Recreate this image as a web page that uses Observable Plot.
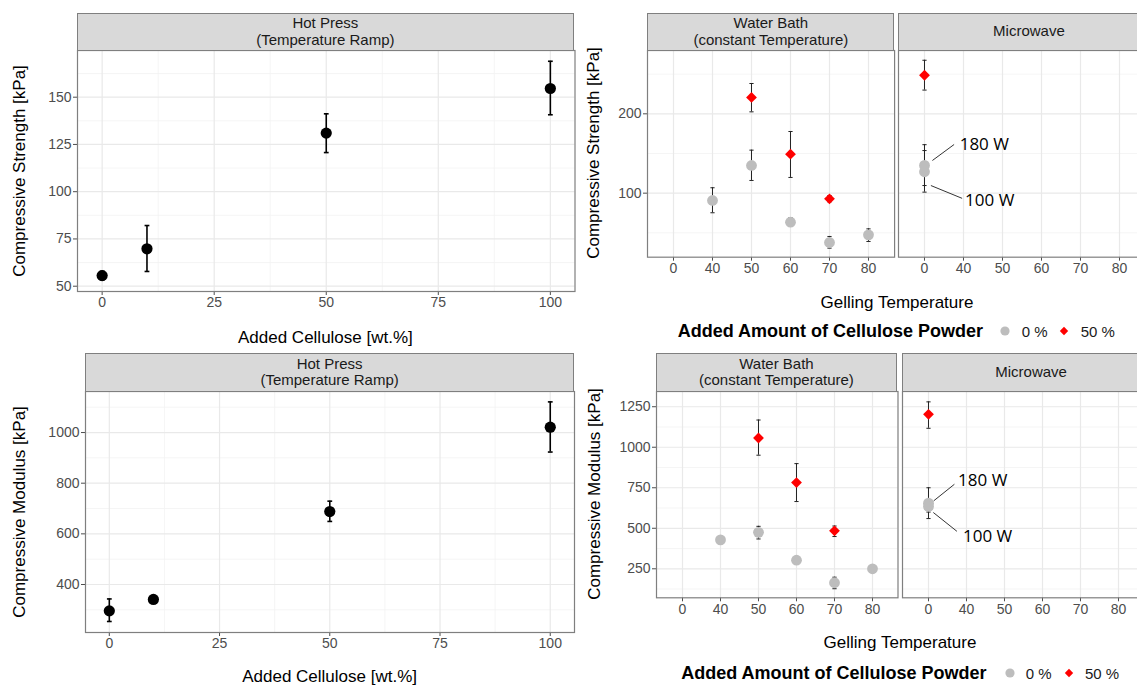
<!DOCTYPE html>
<html>
<head>
<meta charset="utf-8">
<script src="https://cdn.jsdelivr.net/npm/d3@7"></script>
<script src="https://cdn.jsdelivr.net/npm/@observablehq/plot@0.6"></script>
<style>
  html, body { margin: 0; padding: 0; background: #fff; }
  #root { position: relative; width: 1137px; height: 686px; overflow: hidden; background: #fff;
          font-family: 'Liberation Sans', Arial, Helvetica, sans-serif; }
</style>
</head>
<body>
<div id="root"></div>
<script>
// ---------------- DATA ----------------
// Hot press (temperature ramp): added cellulose [wt.%]
const celluloseWt = [0, 10, 50, 100];
const hpStrength   = [55.6, 69.8, 131.0, 154.6];
const hpStrengthLo = [53.4, 57.8, 120.7, 140.7];
const hpStrengthHi = [57.9, 82.1, 141.2, 169.0];
const hpModulus    = [296, 341, 688, 1021];
const hpModulusLo  = [254, 333, 649, 923];
const hpModulusHi  = [343, 349, 729, 1121];

// Gelling temperature categories (shared by both facets)
const tempLabels = ["0", "40", "50", "60", "70", "80"];

// Water bath (constant temperature), 0 % cellulose powder
const wbTemps0       = ["40", "50", "60", "70", "80"];
const wbStrength0    = [90.8, 134.9, 63.4, 37.8, 47.5];
const wbStrength0Lo  = [75.3, 116.0, 59.3, 30.7, 39.1];
const wbStrength0Hi  = [106.8, 154.2, 69.0, 45.4, 55.0];
const wbModulus0     = [428, 475, 303, 164, 250];
const wbModulus0Lo   = [420, 434, 296, 127, 243];
const wbModulus0Hi   = [436, 512, 310, 198, 257];

// Water bath, 50 % cellulose powder
const wbTemps50      = ["50", "60", "70"];
const wbStrength50   = [220.6, 149.1, 92.9];
const wbStrength50Lo = [202.5, 119.8, 89.0];
const wbStrength50Hi = [238.2, 177.7, 97.0];
const wbModulus50    = [1057, 782, 484];
const wbModulus50Lo  = [951, 665, 449];
const wbModulus50Hi  = [1168, 899, 514];

// Microwave (plotted at category "0")
const mwTemp = "0";
const mwPower        = ["180 W", "100 W"];
const mwStrength0    = [135, 127];
const mwStrength0Lo  = [109.6, 101.3];
const mwStrength0Hi  = [161.1, 153.7];
const mwStrength50   = [248.6];
const mwStrength50Lo = [229.9];
const mwStrength50Hi = [267.5];
const mwModulus0     = [655, 635];
const mwModulus0Lo   = [560, 600];
const mwModulus0Hi   = [750, 670];
const mwModulus50    = [1203];
const mwModulus50Lo  = [1117];
const mwModulus50Hi  = [1280];

// Legend
const powderLevels = ["0 %", "50 %"];

// Axis ticks
const hpXTicks = [0, 25, 50, 75, 100];
const hpXMinor = [12.5, 37.5, 62.5, 87.5];
const hpStrengthTicks = [50, 75, 100, 125, 150];
const hpStrengthMinor = [62.5, 87.5, 112.5, 137.5, 162.5];
const hpModulusTicks = [400, 600, 800, 1000];
const hpModulusMinor = [300, 500, 700, 900, 1100];
const wbStrengthTicks = [100, 200];
const wbStrengthMinor = [50, 150, 250];
const wbModulusTicks = [250, 500, 750, 1000, 1250];
const wbModulusMinor = [125, 375, 625, 875, 1125];

// ---------------- HELPERS ----------------
const root = document.getElementById("root");
const FONT = "'Liberation Sans', Arial, Helvetica, sans-serif";
const GRAY = "#bdbdbd", RED = "#ff0000";
const FRAME = "#7f7f7f";

const rows = (xs, v, lo, hi, extra) => xs.map((x, i) => ({x, v: v[i], lo: lo[i], hi: hi[i], label: extra ? extra[i] : null}));

const capSym = {draw(ctx, size) { const r = Math.sqrt(size / Math.PI); ctx.moveTo(-r, 0); ctx.lineTo(r, 0); }};
const diamondSym = {draw(ctx, size) { const r = Math.sqrt(size / Math.PI); ctx.moveTo(0, -r); ctx.lineTo(r, 0); ctx.lineTo(0, r); ctx.lineTo(-r, 0); ctx.closePath(); }};
const segSym = (a, b, c, d) => ({draw(ctx) { ctx.moveTo(a, b); ctx.lineTo(c, d); }});

function addDiv(html, css) {
  const d = document.createElement("div");
  d.innerHTML = html;
  Object.assign(d.style, {position: "absolute", fontFamily: FONT, whiteSpace: "nowrap"}, css);
  root.append(d);
  return d;
}

function strip(lines, x0, x1, y0, y1) {
  addDiv(`<div>${lines.join("<br>")}</div>`, {
    left: x0 + "px", top: y0 + "px", width: (x1 - x0) + "px", height: (y1 - y0) + "px",
    boxSizing: "border-box", background: "#d9d9d9", border: "1.2px solid " + FRAME,
    display: "flex", alignItems: "center", justifyContent: "center", textAlign: "center",
    fontSize: "15px", lineHeight: "16.6px", color: "#1a1a1a"
  });
}

function yTitle(text, cx, cy) {
  addDiv(text, {left: cx + "px", top: cy + "px", transform: "translate(-50%,-50%) rotate(-90deg)",
    fontSize: "17px", color: "#000"});
}
function xTitle(text, cx, cy) {
  addDiv(text, {left: cx + "px", top: cy + "px", transform: "translate(-50%,-50%)", fontSize: "17px", color: "#000"});
}

function legend(cy, xTitleLeft, xCircle, xLab0, xDiamond, xLab1) {
  addDiv("Added Amount of Cellulose Powder", {left: xTitleLeft + "px", top: cy + "px", transform: "translateY(-50%)",
    fontSize: "18px", fontWeight: "bold", color: "#000"});
  addDiv(`<svg width="12" height="12"><circle cx="6" cy="6" r="4.6" fill="${GRAY}"/></svg>`,
    {left: (xCircle - 6) + "px", top: (cy - 6) + "px", lineHeight: "0"});
  addDiv(powderLevels[0], {left: xLab0 + "px", top: cy + "px", transform: "translateY(-50%)", fontSize: "15px", color: "#1a1a1a"});
  addDiv(`<svg width="12" height="12"><path d="M6,1.8L10.2,6L6,10.2L1.8,6Z" fill="${RED}"/></svg>`,
    {left: (xDiamond - 6) + "px", top: (cy - 6) + "px", lineHeight: "0"});
  addDiv(powderLevels[1], {left: xLab1 + "px", top: cy + "px", transform: "translateY(-50%)", fontSize: "15px", color: "#1a1a1a"});
}

function gridMarks(xMajor, xMinor, yMajor, yMinor) {
  return [
    Plot.ruleY(yMinor, {stroke: "#f2f2f2", strokeWidth: 0.8}),
    ...(xMinor ? [Plot.ruleX(xMinor, {stroke: "#f2f2f2", strokeWidth: 0.8})] : []),
    Plot.ruleY(yMajor, {stroke: "#e9e9e9", strokeWidth: 1.2}),
    Plot.ruleX(xMajor, {stroke: "#e9e9e9", strokeWidth: 1.2})
  ];
}

function errorBars(data, stroke, width, capR) {
  return [
    Plot.ruleX(data, {x: "x", y1: "lo", y2: "hi", stroke, strokeWidth: width}),
    Plot.dot(data, {x: "x", y: "lo", symbol: capSym, r: capR, stroke, strokeWidth: width, fill: "none"}),
    Plot.dot(data, {x: "x", y: "hi", symbol: capSym, r: capR, stroke, strokeWidth: width, fill: "none"})
  ];
}

function panel({x0, x1, y0, y1, x, y, marks, showY = true}) {
  const ML = 50, MR = 1, MT = 1, MB = 26;
  const svg = Plot.plot({
    width: (x1 - x0) + ML + MR, height: (y1 - y0) + MT + MB,
    marginLeft: ML, marginRight: MR, marginTop: MT, marginBottom: MB,
    style: {fontFamily: FONT, fontSize: "14px", color: "#4d4d4d", background: "transparent", overflow: "visible"},
    x: {...x, tickSize: 4, tickPadding: 2, label: null},
    y: showY ? {...y, tickSize: 4, tickPadding: 2, label: null, tickFormat: "d"} : {...y, axis: null},
    marks: [...marks, Plot.frame({stroke: FRAME, strokeWidth: 1.2})]
  });
  svg.style.position = "absolute";
  svg.style.left = (x0 - ML) + "px";
  svg.style.top = (y0 - MT) + "px";
  root.append(svg);
}

// ---------------- HOT PRESS PANELS ----------------
const hpS = rows(celluloseWt, hpStrength, hpStrengthLo, hpStrengthHi);
panel({
  x0: 76.6, x1: 574.1, y0: 50, y1: 291,
  x: {domain: [-5.5, 105.5], ticks: hpXTicks},
  y: {domain: [47.2, 174.7], ticks: hpStrengthTicks},
  marks: [
    ...gridMarks(hpXTicks, hpXMinor, hpStrengthTicks, hpStrengthMinor),
    ...errorBars(hpS, "#000", 1.6, 2.4),
    Plot.dot(hpS, {x: "x", y: "v", r: 5.6, fill: "#000", stroke: "none"})
  ]
});
strip(["Hot Press", "(Temperature Ramp)"], 76.6, 574.1, 12.7, 50.6);
yTitle("Compressive Strength [kPa]", 20, 170.5);
xTitle("Added Cellulose [wt.%]", 325.4, 337.5);

const hpM = rows(celluloseWt, hpModulus, hpModulusLo, hpModulusHi);
panel({
  x0: 85.1, x1: 574.1, y0: 391, y1: 632,
  x: {domain: [-5.4, 105.5], ticks: hpXTicks},
  y: {domain: [210.5, 1162], ticks: hpModulusTicks},
  marks: [
    ...gridMarks(hpXTicks, hpXMinor, hpModulusTicks, hpModulusMinor),
    ...errorBars(hpM, "#000", 1.6, 2.4),
    Plot.dot(hpM, {x: "x", y: "v", r: 5.6, fill: "#000", stroke: "none"})
  ]
});
strip(["Hot Press", "(Temperature Ramp)"], 85.1, 574.1, 353.3, 391.6);
yTitle("Compressive Modulus [kPa]", 20, 511.5);
xTitle("Added Cellulose [wt.%]", 329.6, 677.3);

// ---------------- WATER BATH / MICROWAVE PANELS ----------------
const tempX = {type: "point", domain: tempLabels, padding: 0.6, align: 0.5};

function catMarks(r0, r50, yTicks, yMinor) {
  return [
    ...gridMarks(tempLabels, null, yTicks, yMinor),
    ...errorBars(r0, "#222", 1, 2.1),
    ...errorBars(r50, "#222", 1, 2.1),
    Plot.dot(r0, {x: "x", y: "v", r: 5.4, fill: GRAY, stroke: "none"}),
    Plot.dot(r50, {x: "x", y: "v", symbol: diamondSym, r: 5.4, fill: RED, stroke: "none"})
  ];
}

function annotations(r, offsets, fontSize) {
  const marks = [];
  r.forEach((d, i) => {
    const o = offsets[i];
    marks.push(Plot.dot([d], {x: "x", y: "v", r: 1, symbol: segSym(o[0], o[1], o[2], o[3]), stroke: "#333", strokeWidth: 1, fill: "none"}));
    marks.push(Plot.text([d], {x: "x", y: "v", text: "label", dx: o[4], dy: o[5], textAnchor: "start",
      fontSize, fontFamily: "'Open Sans', 'DejaVu Sans', sans-serif", fill: "#000"}));
  });
  return marks;
}

// Top: compressive strength
const wbS0 = rows(wbTemps0, wbStrength0, wbStrength0Lo, wbStrength0Hi);
const wbS50 = rows(wbTemps50, wbStrength50, wbStrength50Lo, wbStrength50Hi);
const mwS0 = rows(mwPower.map(() => mwTemp), mwStrength0, mwStrength0Lo, mwStrength0Hi, mwPower);
const mwS50 = rows([mwTemp], mwStrength50, mwStrength50Lo, mwStrength50Hi);
const yStrength = {domain: [19.3, 279.8], ticks: wbStrengthTicks};

panel({x0: 647.3, x1: 894.4, y0: 50, y1: 256.7, x: tempX, y: yStrength,
  marks: catMarks(wbS0, wbS50, wbStrengthTicks, wbStrengthMinor)});
panel({x0: 897.9, x1: 1144.6, y0: 50, y1: 256.7, x: tempX, y: yStrength, showY: false,
  marks: [...catMarks(mwS0, mwS50, wbStrengthTicks, wbStrengthMinor),
          ...annotations(mwS0, [[7.9, -4.9, 29.6, -20.9, 35.2, -21], [6.4, 13.8, 37.6, 26.6, 40.6, 28.5]], 17)]});
strip(["Water Bath", "(constant Temperature)"], 647.3, 894.4, 12.7, 50.6);
strip(["Microwave"], 897.9, 1160, 12.7, 50.6);
yTitle("Compressive Strength [kPa]", 594, 153.3);
xTitle("Gelling Temperature", 897, 302.7);
legend(331, 677.7, 1005, 1021.7, 1064.3, 1080.7);

// Bottom: compressive modulus
const wbM0 = rows(wbTemps0, wbModulus0, wbModulus0Lo, wbModulus0Hi);
const wbM50 = rows(wbTemps50, wbModulus50, wbModulus50Lo, wbModulus50Hi);
const mwM0 = rows(mwPower.map(() => mwTemp), mwModulus0, mwModulus0Lo, mwModulus0Hi, mwPower);
const mwM50 = rows([mwTemp], mwModulus50, mwModulus50Lo, mwModulus50Hi);
const yModulus = {domain: [71, 1344], ticks: wbModulusTicks};

panel({x0: 655.7, x1: 897.2, y0: 391, y1: 597.3, x: tempX, y: yModulus,
  marks: catMarks(wbM0, wbM50, wbModulusTicks, wbModulusMinor)});
panel({x0: 902.2, x1: 1144, y0: 391, y1: 597.3, x: tempX, y: yModulus, showY: false,
  marks: [...catMarks(mwM0, mwM50, wbModulusTicks, wbModulusMinor),
          ...annotations(mwM0, [[5.2, -2.3, 25.9, -18.9, 29.6, -22.6], [4.8, 6.1, 28.4, 24.9, 34.5, 30.1]], 17)]});
strip(["Water Bath", "(constant Temperature)"], 655.7, 897.2, 353.3, 391.6);
strip(["Microwave"], 902.2, 1160, 353.3, 391.6);
yTitle("Compressive Modulus [kPa]", 595, 494);
xTitle("Gelling Temperature", 900, 643.3);
legend(673.3, 681.2, 1009.8, 1025.8, 1069.2, 1085);
</script>
</body>
</html>
